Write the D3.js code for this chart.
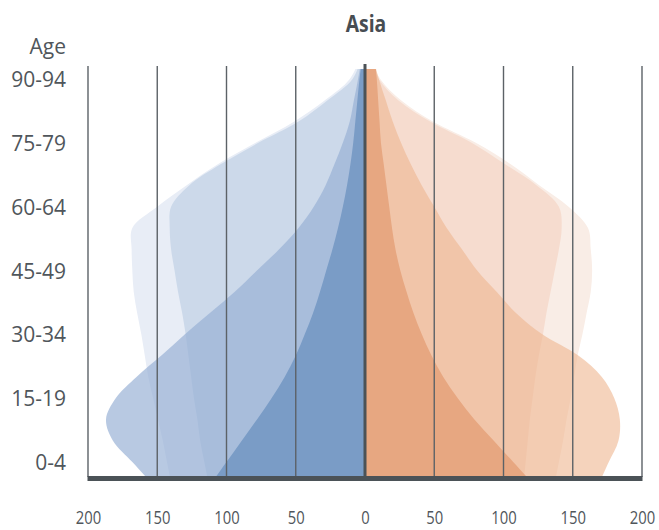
<!DOCTYPE html>
<html><head><meta charset="utf-8">
<script src="https://cdn.jsdelivr.net/npm/d3@7"></script>
<style>body{margin:0;background:#fff;} svg{display:block;}</style>
</head><body><svg id="chart" width="659" height="530"></svg>
<script>
// ---------- data (millions) ----------
const ageGroups = ["0-4","5-9","10-14","15-19","20-24","25-29","30-34","35-39","40-44","45-49",
  "50-54","55-59","60-64","65-69","70-74","75-79","80-84","85-89","90-94","95-99","100+"];
const ageTickLabels = ["0-4","15-19","30-34","45-49","60-64","75-79","90-94"];
const xTickValues = [-200,-150,-100,-50,0,50,100,150,200];
const title = "Asia";
const ageTitle = "Age";

// male (left side)
const male1950 = [100,89,78,67.5,58,50,43.5,37.5,32.5,28,23.5,19.5,16,13,10.5,8.5,7,5.5,4,2,1];
const male2000 = [168,182,187,180,165,147,130,112,94,78,62,48,37,28.5,22,16,11,8,5,2.5,1];
const male2050 = [116,119,121,123.5,125.5,127.5,129.5,132,135,137.5,140,141,140,127,104,77,48,27,9,3,1];
const male2100 = [143,146,149.5,153,156.5,159,161.5,164.5,167,168,168.5,168,150,129,106,79,51,29,11,4,1];
// female (right side)
const female1950 = [107,93,79,67,56.5,48,41,35,30,25.5,22,19.5,17.5,15.5,13.5,11.5,10.5,9.5,8.5,7,5];
const female2000 = [176,183,184,180,171,154,128,109,95,81,70,59,50,41,33,26,20,15,10,6,3];
const female2050 = [116,117.5,119,121,123,125.5,128.5,131,134,137,140,142,140,124,101,77,47,24,10,4,1.5];
const female2100 = [140,143,145.5,148.5,151,153.5,157,160,163,164,163,161,147,126,105,80,49,26,11,4,1.5];

// ---------- layout ----------
const svg = d3.select("#chart");
const plotTop = 69, plotBottom = 477, plotLeft = 88, plotRight = 642;
const x = d3.scaleLinear().domain([-200,200]).range([plotLeft, plotRight]);
const y = d3.scaleLinear().domain([0,18]).range([462,79]);
const iBottom = y.invert(plotBottom);

svg.append("defs").append("clipPath").attr("id","plotclip")
  .append("rect").attr("x",plotLeft).attr("y",plotTop)
  .attr("width",plotRight-plotLeft).attr("height",plotBottom-plotTop);

const g = svg.append("g").attr("clip-path","url(#plotclip)");

function pts(values){
  const p = values.map((v,i)=>({i, v}));
  // continue the first segment down to the axis edge
  const e = values[0] + (values[0]-values[1])*(0-iBottom);
  p.unshift({i:iBottom-0.3, v:e + (values[0]-values[1])*0.3});
  return p.reverse(); // increasing screen y
}
function drawArea(values, sign, fill, opacity){
  const area = d3.area()
    .curve(d3.curveCatmullRom.alpha(0.5))
    .y(d=>y(d.i))
    .x0(()=>x(0))
    .x1(d=>x(sign*d.v));
  g.append("path").attr("d", area(pts(values)))
    .attr("fill", fill).attr("fill-opacity", opacity);
}

// left (male) layers
drawArea(male2100, -1, "#e8edf6", 1);
drawArea(male2050, -1, "#ccd9ea", 1);
drawArea(male2000, -1, "rgb(150,176,212)", 0.68);
drawArea(male1950, -1, "#7a9cc6", 1);
// right (female) layers
drawArea(female2100, 1, "#f9ede6", 1);
drawArea(female2050, 1, "#f6dccf", 1);
drawArea(female2000, 1, "rgb(238,181,143)", 0.6);
drawArea(female1950, 1, "#e7a781", 1);

// gridlines
svg.append("g").selectAll("line").data(xTickValues.filter(d=>d!==0)).join("line")
  .attr("x1",d=>x(d)).attr("x2",d=>x(d))
  .attr("y1",66).attr("y2",plotBottom)
  .attr("stroke","#5c6267").attr("stroke-width",1.4);
// center line
svg.append("line").attr("x1",x(0)).attr("x2",x(0)).attr("y1",64).attr("y2",plotBottom)
  .attr("stroke","#4b5257").attr("stroke-width",3);
// bottom axis bar
svg.append("line").attr("x1",plotLeft-0.5).attr("x2",plotRight+0.5)
  .attr("y1",478.5).attr("y2",478.5)
  .attr("stroke","#4b5257").attr("stroke-width",5);

// x axis labels
const xAxis = d3.axisBottom(x).tickValues(xTickValues)
  .tickFormat(d=>Math.abs(d)).tickSize(0).tickPadding(0);
const xg = svg.append("g").attr("transform","translate(0,524)").call(xAxis);
xg.select(".domain").remove();
xg.selectAll("text")
  .attr("y",0).attr("dy",0)
  .attr("transform","scale(0.8,1)")
  .attr("font-family","'Open Sans', sans-serif")
  .attr("font-size",18.5).attr("fill","#50565b");

// y axis labels
const tickIdx = ageTickLabels.map(a=>ageGroups.indexOf(a));
const yAxis = d3.axisLeft(y).tickValues(tickIdx)
  .tickFormat(i=>ageGroups[i]).tickSize(0).tickPadding(0);
const yg = svg.append("g").attr("transform","translate(66,0)").call(yAxis);
yg.select(".domain").remove();
yg.selectAll("text")
  .attr("dy","0.36em")
  .attr("font-family","'Open Sans', sans-serif")
  .attr("font-size",21).attr("fill","#50565b");

svg.append("text").attr("x",66).attr("y",54).attr("text-anchor","end")
  .attr("font-family","'Open Sans', sans-serif").attr("font-size",21)
  .attr("fill","#50565b").text(ageTitle);

svg.append("text").attr("transform","translate(366,32) scale(0.86,1)")
  .attr("text-anchor","middle")
  .attr("font-family","'Open Sans', sans-serif").attr("font-weight","bold")
  .attr("font-size",22.5).attr("fill","#474d52").text(title);
</script>
</body></html>
